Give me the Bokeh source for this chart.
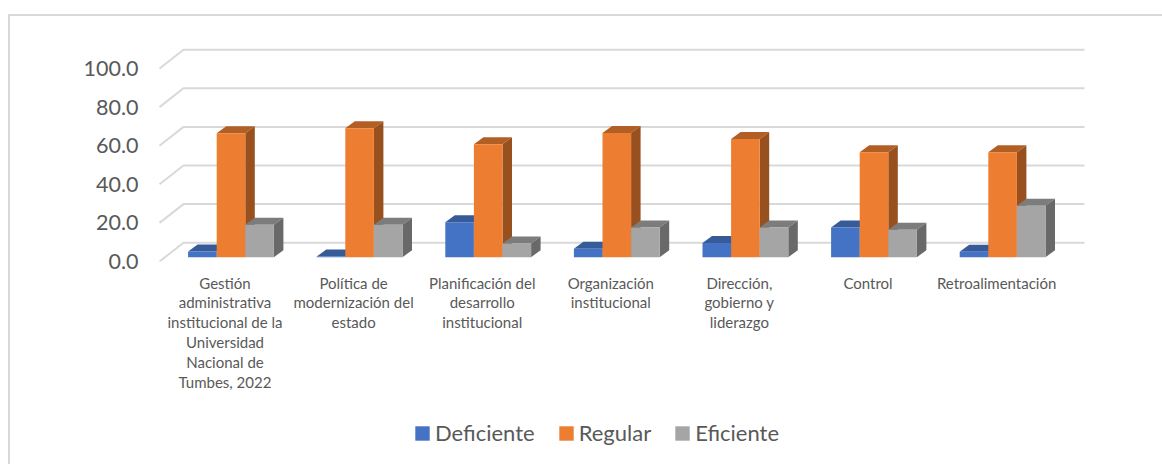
from bokeh.plotting import figure
from bokeh.layouts import column
from bokeh.models import Range1d, LinearAxis, FixedTicker, Legend, LegendItem
from bokeh.embed import file_html
from bokeh.resources import INLINE

categories = [
    "Gestión\nadministrativa\ninstitucional de la\nUniversidad\nNacional de\nTumbes, 2022",
    "Política de\nmodernización del\nestado",
    "Planificación del\ndesarrollo\ninstitucional",
    "Organización\ninstitucional",
    "Dirección,\ngobierno y\nliderazgo",
    "Control",
    "Retroalimentación",
]
deficiente = [3.0, 0.3, 18.1, 4.4, 7.4, 15.4, 2.8]
regular = [64.2, 66.8, 58.5, 64.3, 61.2, 54.4, 54.4]
eficiente = [16.8, 16.8, 7.1, 15.4, 15.4, 14.2, 26.6]
y_ticks = [0, 20, 40, 60, 80, 100]
y_tick_labels = ["0.0", "20.0", "40.0", "60.0", "80.0", "100.0"]

PX_X = 128.6   # px per category
PX_Y = 1.93    # px per value unit
TICK0 = 225.5  # page px of the first category tick
BAR_W = 28.6 / PX_X
SHIFT = 6 / PX_X
BASE = 4.3 / PX_Y
BD_X, BD_Y = 9.5 / PX_X, 7 / PX_Y
WALL_X, WALL_Y = 24 / PX_X, 18.8 / PX_Y

OX, OY = 8, 14                          # outer box position in page px
CX, CY = 11, 17                         # figure offsets used for the frame
FL, FB, FR, FT = 159, 262, 1090, 45     # frame edges in page px
WIDTH, HEIGHT, LEG_H = 1154, 390, 58
x0 = (FL - TICK0) / PX_X
x1 = (FR - TICK0) / PX_X

p = figure(width=WIDTH, height=HEIGHT, output_backend="svg", toolbar_location=None,
           x_range=Range1d(x0, x1), y_range=Range1d(0, (FB - FT) / PX_Y),
           x_axis_location=None, y_axis_location=None,
           min_border_left=FL - CX, min_border_right=CX + WIDTH - FR,
           min_border_top=FT - CY, min_border_bottom=CY + HEIGHT - FB)
p.grid.visible = False
p.outline_line_color = None
p.background_fill_color = "white"
p.border_fill_color = "white"

# axes
yax = LinearAxis(ticker=FixedTicker(ticks=y_ticks),
                 major_label_overrides={t: l for t, l in zip(y_ticks, y_tick_labels)})
yax.axis_line_color = None
yax.major_tick_line_color = None
yax.minor_tick_line_color = None
yax.major_label_standoff = 14
yax.major_label_text_font = "Lato"
yax.major_label_text_font_size = "21.5px"
yax.major_label_text_color = "#595959"
p.add_layout(yax, "left")

xax = LinearAxis(ticker=FixedTicker(ticks=list(range(len(categories)))),
                 major_label_overrides={i: c for i, c in enumerate(categories)})
xax.axis_line_color = None
xax.major_tick_line_color = None
xax.minor_tick_line_color = None
xax.major_label_standoff = 6
xax.major_label_text_font = "Lato"
xax.major_label_text_font_size = "15px"
xax.major_label_text_color = "#595959"
xax.major_label_text_line_height = 1.1
p.add_layout(xax, "below")

# back wall gridlines
wall_l = (160 - TICK0) / PX_X
wall_r = (1085 - TICK0) / PX_X
p.multi_line(xs=[[wall_l, wall_l + WALL_X, wall_r] for _ in y_ticks],
             ys=[[t, t + WALL_Y, t + WALL_Y] for t in y_ticks],
             line_color="#D9D9D9", line_width=2)

series = [
    ("Deficiente", deficiente, -1, "#4472C4", "#375A99", "#2F5289"),
    ("Regular", regular, 0, "#ED7D31", "#B25F26", "#98501E"),
    ("Eficiente", eficiente, 1, "#A5A5A5", "#7C7C7C", "#696969"),
]
for name, vals, k, front, top, side in series:
    l = [i + SHIFT + (k - 0.5) * BAR_W for i in range(len(vals))]
    r = [a + BAR_W for a in l]
    b = [BASE] * len(vals)
    t = [v + BASE for v in vals]
    p.patches(xs=[[a, a + BD_X, c + BD_X, c] for a, c in zip(l, r)],
              ys=[[h, h + BD_Y, h + BD_Y, h] for h in t],
              fill_color=top, line_color=None)
    p.patches(xs=[[c, c + BD_X, c + BD_X, c] for c in r],
              ys=[[BASE, BASE + BD_Y, h + BD_Y, h] for h in t],
              fill_color=side, line_color=None)
    p.quad(left=l, right=r, bottom=b, top=t, fill_color=front, line_color=None)

# legend strip, a second figure right under the chart
lf = figure(width=WIDTH, height=LEG_H, output_backend="svg", toolbar_location=None,
            x_range=Range1d(10, 20), y_range=Range1d(10, 20),
            x_axis_location=None, y_axis_location=None,
            min_border_left=0, min_border_right=0, min_border_top=0, min_border_bottom=0)
lf.grid.visible = False
lf.outline_line_color = None
items = []
for name, vals, k, front, top, side in series:
    q = lf.quad(left=[0], right=[1], bottom=[0], top=[1], fill_color=front, line_color=None)
    items.append(LegendItem(label=name, renderers=[q]))
leg = Legend(items=items, orientation="horizontal", location=(255, 18),
             border_line_color=None, background_fill_alpha=0,
             glyph_width=18, glyph_height=18, label_standoff=4, spacing=22,
             padding=0, margin=0,
             label_text_font="Lato", label_text_font_size="22px", label_text_color="#595959")
lf.add_layout(leg)

page = column(p, lf, spacing=0, margin=(OY, 0, 0, OX),
              styles={"border-left": "2px solid #D9D9D9", "border-top": "2px solid #D9D9D9",
                      "box-sizing": "border-box"})
open("out.html", "w").write(file_html(page, INLINE))
